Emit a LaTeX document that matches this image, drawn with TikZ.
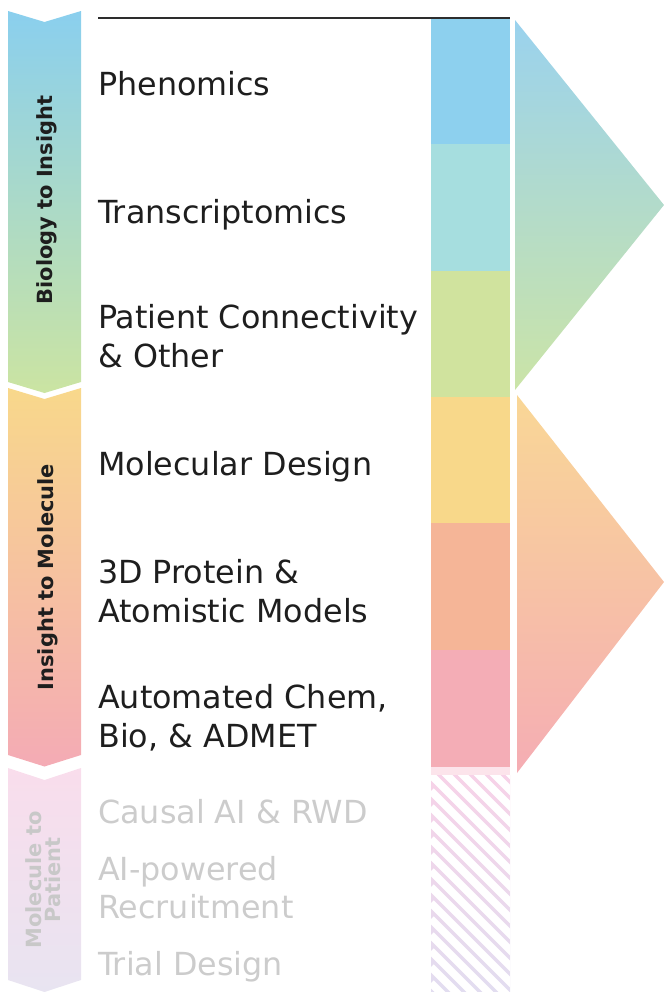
\documentclass[tikz,border=0pt]{standalone}
\usepackage{fontspec}
\setmainfont{DejaVu Sans}
\definecolor{txt}{RGB}{30,30,30}
\definecolor{txtgray}{RGB}{204,204,204}
\definecolor{vgray}{RGB}{200,200,200}
\definecolor{cblue}{HTML}{8DD0EE}
\definecolor{cteal}{HTML}{A6DEDF}
\definecolor{cgreen}{HTML}{D0E39E}
\definecolor{cyellow}{HTML}{F8D88A}
\definecolor{csalmon}{HTML}{F5B597}
\definecolor{cpink}{HTML}{F4ADB6}
\definecolor{cstrip}{HTML}{FCE4EB}
\definecolor{hatchtop}{HTML}{F7D2E8}
\definecolor{hatchbot}{HTML}{E2DDF0}
\definecolor{aoneT}{HTML}{8ACFEE}
\definecolor{aoneM}{HTML}{A9DEDE}
\definecolor{aoneB}{HTML}{CBE4A2}
\definecolor{atwoT}{HTML}{F8D88B}
\definecolor{atwoM}{HTML}{F5B599}
\definecolor{atwoB}{HTML}{F4ABB5}
\definecolor{athrT}{HTML}{F9DDEC}
\definecolor{athrB}{HTML}{E8E4F1}
\definecolor{tonT}{HTML}{9AD2EE}
\definecolor{tonM}{HTML}{ADE0E0}
\definecolor{tonB}{HTML}{CBE4A7}
\definecolor{ttwT}{HTML}{F9D796}
\definecolor{ttwM}{HTML}{F7B99A}
\definecolor{ttwB}{HTML}{F5ADB4}
\tikzset{
  lbl/.style={anchor=base west, inner sep=0pt, text=txt, font=\fontsize{31.9pt}{39pt}\selectfont},
  lblgray/.style={lbl, text=txtgray},
  vlbl/.style={anchor=base, inner sep=0pt, rotate=90, text=txt, font=\bfseries\fontsize{21pt}{21pt}\selectfont},
  vlblgray/.style={vlbl, text=vgray},
}
\begin{document}
\begin{tikzpicture}[x=1bp,y=-1bp]
\useasboundingbox (0,0) rectangle (664,992);

% left chevrons
\shade[top color=aoneT, middle color=aoneM, bottom color=aoneB]
  (8,11) -- (44.5,22) -- (81,11) -- (81,382) -- (44.5,393) -- (8,382) -- cycle;
\shade[top color=atwoT, middle color=atwoM, bottom color=atwoB]
  (8,388) -- (44.5,399) -- (81,388) -- (81,755) -- (44.5,766.5) -- (8,755) -- cycle;
\shade[top color=athrT, bottom color=athrB]
  (8,768) -- (44.5,780) -- (81,768) -- (81,980) -- (44.5,992) -- (8,980) -- cycle;

\node[vlbl] (v1) at (52.5,200) {Biology to Insight};
\node[vlbl] (v2) at (53,577) {Insight to Molecule};
\node[vlblgray] (v3a) at (41.5,880) {Molecule to};
\node[vlblgray] (v3b) at (60,880) {Patient};

% top rule
\draw[line width=1.6bp, color={rgb,255:red,45;green,45;blue,45}] (98,18) -- (510,18);

% colour bars
\fill[cblue]   (431,19) rectangle (510,144);
\fill[cteal]   (431,144) rectangle (510,271);
\fill[cgreen]  (431,271) rectangle (510,397);
\fill[cyellow] (431,397) rectangle (510,523);
\fill[csalmon] (431,523) rectangle (510,650);
\fill[cpink]   (431,650) rectangle (510,767);
\fill[cstrip]  (431,767) rectangle (510,775);
\begin{scope}
  \clip (431,775) rectangle (510,992);
  \shade[top color=hatchtop, bottom color=hatchbot] (431,775) rectangle (510,992);
  \foreach \k in {-8,...,16}
    \draw[white, line width=7.6bp] (431,{775+\k*16}) -- ++(100,100);
\end{scope}

% right triangles
\shade[top color=tonT, middle color=tonM, bottom color=tonB]
  (515,20) -- (664,205) -- (515,390) -- cycle;
\shade[top color=ttwT, middle color=ttwM, bottom color=ttwB]
  (517,395) -- (664,582) -- (517,773) -- cycle;

% labels
\node[lbl] (t1) at (98,95) {Phenomics};
\node[lbl] (t2) at (98,223) {Transcriptomics};
\node[lbl] (t3a) at (98,328) {Patient Connectivity};
\node[lbl] (t3b) at (98,367) {\& Other};
\node[lbl] (t4) at (98,475) {Molecular Design};
\node[lbl] (t5a) at (98,583) {3D Protein \&};
\node[lbl] (t5b) at (98,622) {Atomistic Models};
\node[lbl] (t6a) at (98,708) {Automated Chem,};
\node[lbl] (t6b) at (98,747) {Bio, \& ADMET};
\node[lblgray] (t7) at (98,823) {Causal AI \& RWD};
\node[lblgray] (t8a) at (98,880) {AI-powered};
\node[lblgray] (t8b) at (98,918) {Recruitment};
\node[lblgray] (t9) at (98,975) {Trial Design};
\end{tikzpicture}
\end{document}
